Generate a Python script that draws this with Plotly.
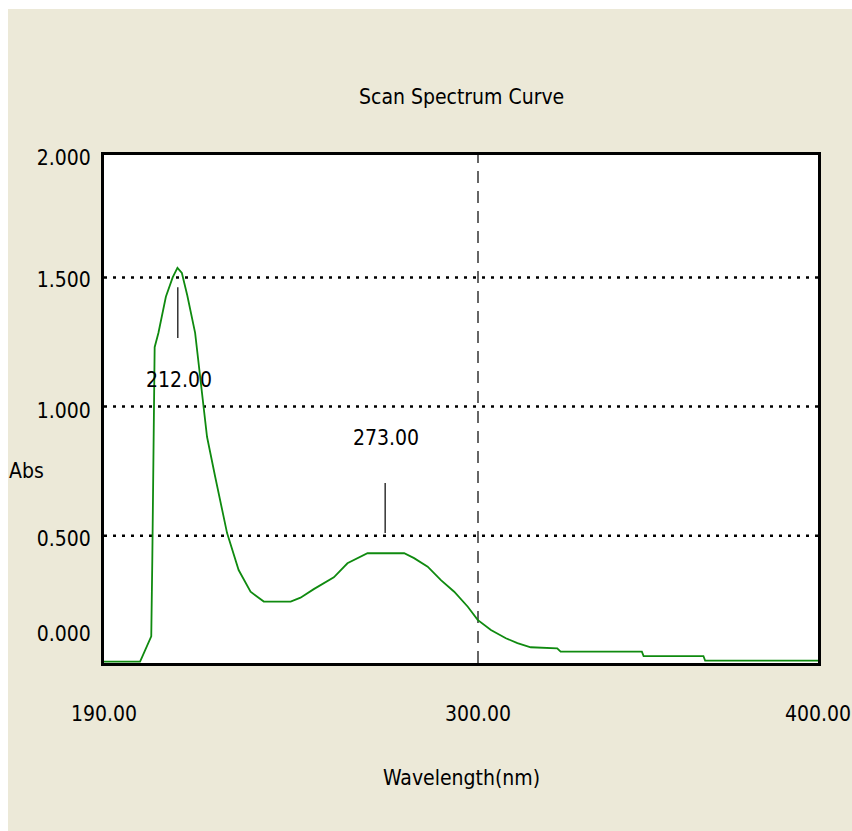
import plotly.graph_objects as go

# ---- data ----
wavelength = [190.0, 200.6, 201.2, 203.9, 204.2, 204.7, 204.9, 206.0, 208.2, 210.2, 211.6,
              212.9, 214.5, 216.8, 218.8, 220.3, 222.7, 226.2, 229.6, 233.1, 237.0,
              244.9, 247.8, 251.7, 257.6, 261.6, 267.5, 273.0, 278.3, 281.2, 285.2,
              289.1, 293.0, 297.0, 299.9, 303.8, 308.2, 311.6, 315.5, 323.3, 324.3,
              348.2, 348.7, 366.3, 366.8, 400.0]
absorbance = [0.012, 0.012, 0.030, 0.110, 0.400, 0.955, 1.230, 1.285, 1.425, 1.500, 1.537,
              1.517, 1.430, 1.285, 1.052, 0.883, 0.728, 0.510, 0.367, 0.283, 0.245,
              0.245, 0.260, 0.293, 0.339, 0.393, 0.432, 0.432, 0.432, 0.413, 0.380,
              0.328, 0.283, 0.225, 0.174, 0.135, 0.103, 0.084, 0.068, 0.064, 0.051,
              0.051, 0.034, 0.034, 0.016, 0.016]

peak_wl = [212.0, 273.0]
peak_abs = [1.537, 0.432]
peak_labels = ["212.00", "273.00"]

grid_levels = [0.5, 1.0, 1.5]
marker_wl = 300.0

x_tick_vals = [190, 300, 400]
x_tick_text = ["190.00", "300.00", "400.00"]
y_tick_vals = [0.12, 0.49, 0.985, 1.49, 1.965]
y_tick_text = ["0.000", "0.500", "1.000", "1.500", "2.000"]

title_text = "Scan Spectrum Curve"
x_title = "Wavelength(nm)"
y_title = "Abs"

# ---- styles ----
FONT = "DejaVu Sans Condensed, Liberation Sans Narrow, Arial Narrow, sans-serif"
BEIGE = "#ECE9D8"
GREEN = "#0f8a0f"

fig = go.Figure()
fig.add_trace(go.Scatter(x=wavelength, y=absorbance, mode="lines",
                         line=dict(color=GREEN, width=1.8), showlegend=False,
                         hoverinfo="x+y"))

shapes = []
# outer white strips (screenshot border)
shapes.append(dict(type="rect", xref="paper", yref="paper", x0=-0.2, x1=1.1,
                   y0=(663 - 9) / 508, y1=1.4, fillcolor="white", line=dict(width=0),
                   layer="above"))
shapes.append(dict(type="rect", xref="paper", yref="paper", x0=-0.2, x1=(8 - 104) / 714,
                   y0=-0.4, y1=1.4, fillcolor="white", line=dict(width=0), layer="above"))
# dotted horizontal grid
for g in grid_levels:
    shapes.append(dict(type="line", xref="paper", yref="y", x0=0, x1=1, y0=g, y1=g,
                       line=dict(color="black", width=2.5, dash="3px,6px"), layer="below"))
# dashed vertical line
shapes.append(dict(type="line", xref="x", yref="paper", x0=marker_wl, x1=marker_wl, y0=0, y1=1,
                   line=dict(color="black", width=1.2, dash="12px,8px"), layer="below"))

# peak marker ticks and labels
offsets_line = [(-0.075, -0.272), (0.078, 0.272)]
offsets_label = [-0.435, 0.448]
annotations = []
for wl, ab, lab, (o0, o1), ol in zip(peak_wl, peak_abs, peak_labels, offsets_line, offsets_label):
    shapes.append(dict(type="line", xref="x", yref="y", x0=wl - 0.3, x1=wl - 0.3,
                       y0=ab + o0, y1=ab + o1, line=dict(color="#333333", width=1.5)))
    annotations.append(dict(x=wl, y=ab + ol, xref="x", yref="y", text=lab, showarrow=False,
                            font=dict(family=FONT, size=21, color="black"),
                            xanchor="center", yanchor="middle"))

annotations.append(dict(x=0.5, y=(663 - 97) / 508, xref="paper", yref="paper", text=title_text,
                        showarrow=False, font=dict(family=FONT, size=21, color="black"),
                        xanchor="center", yanchor="middle"))
annotations.append(dict(x=(461 - 104) / 714, y=(663 - 778) / 508, xref="paper", yref="paper",
                        text=x_title, showarrow=False,
                        font=dict(family=FONT, size=21, color="black"),
                        xanchor="center", yanchor="middle"))
annotations.append(dict(x=(26 - 104) / 714, y=(663 - 471) / 508, xref="paper", yref="paper",
                        text=y_title, showarrow=False,
                        font=dict(family=FONT, size=21, color="black"),
                        xanchor="center", yanchor="middle"))

fig.update_layout(
    width=852, height=831,
    margin=dict(l=104, r=34, t=155, b=168, pad=0, autoexpand=False),
    paper_bgcolor=BEIGE, plot_bgcolor="white",
    shapes=shapes, annotations=annotations,
    showlegend=False,
)
fig.update_xaxes(range=[190, 400], tickvals=x_tick_vals, ticktext=x_tick_text,
                 showgrid=False, zeroline=False, showline=True, mirror=True,
                 linecolor="black", linewidth=3, ticks="outside", ticklen=30,
                 tickcolor="rgba(0,0,0,0)", automargin=False,
                 tickfont=dict(family=FONT, size=21, color="black"))
fig.update_yaxes(range=[0.007, 1.974], tickvals=y_tick_vals, ticktext=y_tick_text,
                 showgrid=False, zeroline=False, showline=True, mirror=True,
                 linecolor="black", linewidth=3, ticks="outside", ticklen=6,
                 tickcolor="rgba(0,0,0,0)", automargin=False,
                 tickfont=dict(family=FONT, size=21, color="black"))

fig.write_html("out.html")
